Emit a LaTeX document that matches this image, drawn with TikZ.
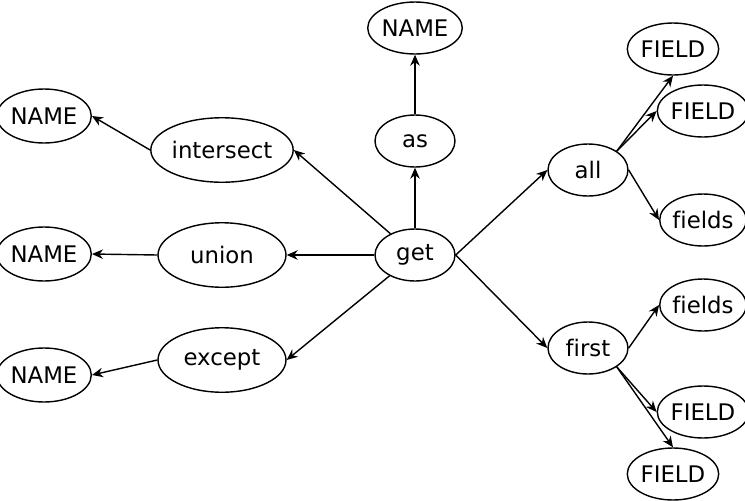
\documentclass[tikz,border=0pt]{standalone}
\usepackage{fontspec}
\setmainfont{DejaVu Sans}[Ligatures=NoCommon]
\usetikzlibrary{arrows.meta,shapes.geometric}
\tikzset{
  kw/.style={draw,ellipse,line width=0.8pt,inner sep=0pt,minimum width=1.6cm,
             minimum height=1.04cm,font=\fontsize{13}{15}\selectfont},
  big/.style={kw,minimum width=2.56cm,minimum height=1.29cm},
  leaf/.style={kw,minimum width=1.72cm},
  flow/.style={-{Stealth[length=2.2mm,width=1.9mm]},line width=0.8pt},
}
\begin{document}
\begin{tikzpicture}[x=0.02cm,y=-0.02cm]
  \useasboundingbox (0,0) rectangle (745,501);
  % centre and keywords
  \node[kw] (get) at (415,255) {get};
  \node[kw] (as) at (415,141) {as};
  \node[leaf] (asname) at (415,28) {NAME};
  \node[big] (inter) at (222,150) {intersect};
  \node[big] (union) at (222,255) {union};
  \node[big] (except) at (222,360) {except};
  \node[leaf,minimum height=1.08cm] (n1) at (44,116) {NAME};
  \node[leaf,minimum height=1.08cm] (n2) at (44,254) {NAME};
  \node[leaf,minimum height=1.08cm] (n3) at (44,375) {NAME};
  \node[kw] (all) at (588,170) {all};
  \node[kw] (first) at (588,348) {first};
  % leaves on the right
  \node[leaf,minimum width=1.62cm] (fa1) at (673,49) {FIELD};
  \node[leaf,minimum width=1.62cm] (fa2) at (703,111) {FIELD};
  \node[leaf,minimum width=1.62cm] (fsa) at (703,220) {fields};
  \node[leaf,minimum width=1.62cm] (fsf) at (703,305) {fields};
  \node[leaf,minimum width=1.62cm] (ff1) at (703,412) {FIELD};
  \node[leaf,minimum width=1.62cm] (ff2) at (673,474) {FIELD};

  \draw[flow] (get) -- (as);
  \draw[flow] (as) -- (asname);
  \draw[flow] (get) -- (inter.east);
  \draw[flow] (get) -- (union);
  \draw[flow] (get) -- (except.east);
  \draw[flow] (inter.west) -- (n1.east);
  \draw[flow] (union.west) -- (n2.east);
  \draw[flow] (except.west) -- (n3.east);
  \draw[flow] (get.east) -- (all.west);
  \draw[flow] (get.east) -- (first.west);
  \draw[flow] (all.north east) -- (fa1.south);
  \draw[flow] (all.north east) -- (fa2.west);
  \draw[flow] (all.east) -- (fsa.west);
  \draw[flow] (first.east) -- (fsf.west);
  \draw[flow] (first.south east) -- (ff1.west);
  \draw[flow] (first.south east) -- (ff2.north);
\end{tikzpicture}
\end{document}
